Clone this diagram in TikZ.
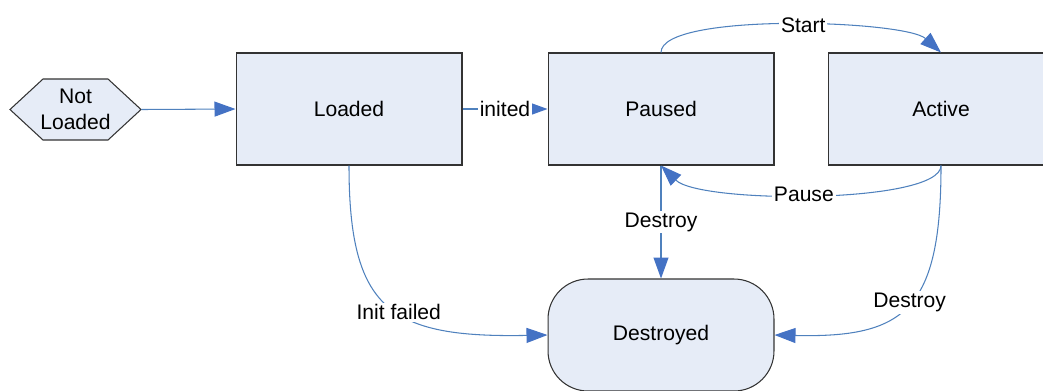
\documentclass[tikz,border=0pt]{standalone}
\usepackage{fontspec}
\setmainfont{Liberation Sans}
\usetikzlibrary{arrows.meta}
\definecolor{boxfill}{RGB}{230,236,247}
\definecolor{linkblue}{RGB}{79,129,189}
\definecolor{tipblue}{RGB}{68,114,196}

\begin{document}
\begin{tikzpicture}[x=0.02cm,y=-0.02cm,
  state/.style={draw=black!80,fill=boxfill,line width=0.6pt,minimum width=4.52cm,minimum height=2.24cm,inner sep=0pt,font=\fontsize{12}{14.5}\selectfont},
  link/.style={draw=linkblue,line width=0.6pt,-{Triangle[length=0.42cm,width=0.3cm,color=tipblue]}},
  tag/.style={fill=white,inner sep=1pt,font=\fontsize{12}{14.5}\selectfont}]
\useasboundingbox (0,0) rectangle (1043,390);
% not loaded
\draw[draw=black!80,fill=boxfill,line width=0.6pt] (10,109.5) -- (43,79) -- (108,79) -- (141,109.5) -- (108,140) -- (43,140) -- cycle;
\node[minimum width=2.62cm,minimum height=1.22cm,inner sep=0pt,align=center,font=\fontsize{12}{14.5}\selectfont] (notloaded) at (75.5,109.5) {Not\\Loaded};
% states
\node[state] (loaded) at (349,109) {Loaded};
\node[state] (paused) at (661,109) {Paused};
\node[state] (active) at (941,109) {Active};
\node[state,rounded corners=0.8cm] (destroyed) at (661,335) {Destroyed};
% links
\draw[link] (notloaded.east) -- (loaded.west);
\draw[link] (loaded) -- node[tag] {inited} (paused);
\draw[link] (paused.north) .. controls (661,12) and (905,20) .. node[tag,pos=0.54] {Start} (active.north);
\draw[link] (active.south) .. controls (941,204) and (700,204) .. node[tag,pos=0.53] {Pause} (paused.south);
\draw[link] (paused.south) -- node[tag,pos=0.5] {Destroy} (destroyed.north);
\draw[link] (loaded.south) .. controls (349,310) and (390,338) .. node[tag,pos=0.55] {Init failed} (destroyed.west);
\draw[link] (active.south) .. controls (941,310) and (905,338) .. node[tag,pos=0.48] {Destroy} (destroyed.east);
\end{tikzpicture}
\end{document}
